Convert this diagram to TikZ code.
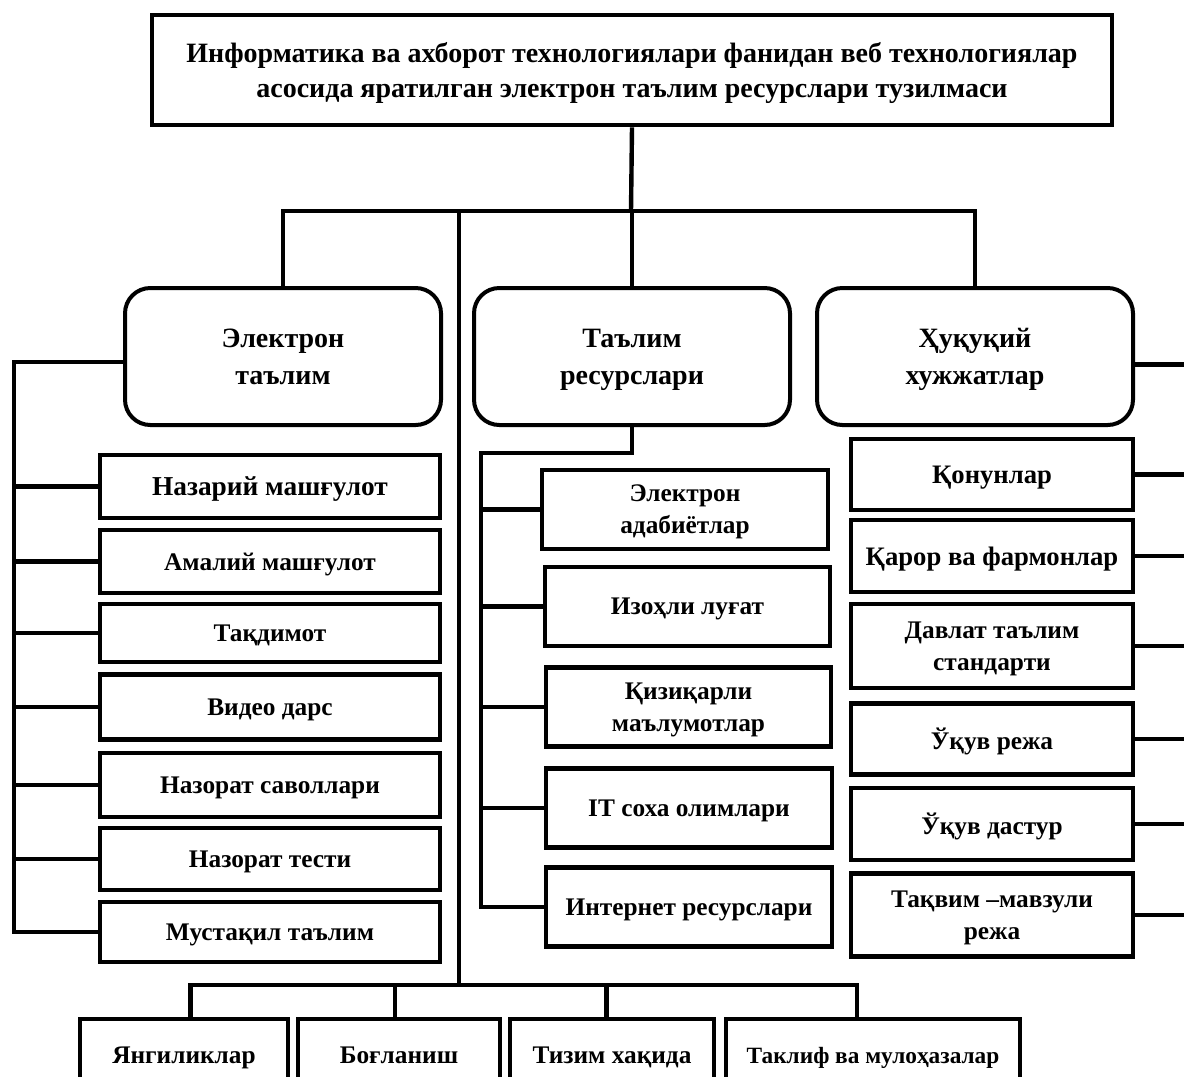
\documentclass[tikz,border=0pt]{standalone}
\usepackage{fontspec}
\setmainfont{Liberation Serif}
\newcommand\pxu{0.75pt}
\begin{document}
\begin{tikzpicture}[x=0.75pt,y=-0.75pt,
  sq/.style={draw, line width=3.3pt, align=center, inner sep=2pt, text depth=0pt, font=\bfseries\fontsize{19}{24}\selectfont},
  big/.style={font=\bfseries\fontsize{20.5}{24}\selectfont},
  rnd/.style={sq, line width=3pt, rounded corners=19pt, font=\bfseries\fontsize{21}{28}\selectfont},
  ttl/.style={sq, line width=3.5pt, font=\bfseries\fontsize{21}{26}\selectfont},
  link/.style={line width=3.3pt, line join=miter}]
\clip (0,0) rectangle (1184,1077);
\fill[white] (0,0) rectangle (1184,1077);

% title
\node[ttl, minimum width=960*\pxu, minimum height=110*\pxu] (title) at (632,70)
  {Информатика ва ахборот технологиялари фанидан веб технологиялар\\асосида яратилган электрон таълим ресурслари тузилмаси};

% main groups
\node[rnd, minimum width=316*\pxu, minimum height=137*\pxu] (et) at (283,356.5) {Электрон\\таълим};
\node[rnd, minimum width=316*\pxu, minimum height=137*\pxu] (tr) at (632,356.5) {Таълим\\ресурслари};
\node[rnd, minimum width=316*\pxu, minimum height=137*\pxu] (hh) at (975,356.5) {Ҳуқуқий\\хужжатлар};

% left column
\node[sq, big, minimum width=340*\pxu, minimum height=63*\pxu] (l1) at (270,486.5) {Назарий машғулот};
\node[sq, minimum width=340*\pxu, minimum height=63*\pxu] (l2) at (270,561.5) {Амалий машғулот};
\node[sq, minimum width=340*\pxu, minimum height=58*\pxu] (l3) at (270,633) {Тақдимот};
\node[sq, minimum width=340*\pxu, minimum height=65*\pxu] (l4) at (270,707) {Видео дарс};
\node[sq, minimum width=340*\pxu, minimum height=64*\pxu] (l5) at (270,785) {Назорат саволлари};
\node[sq, minimum width=340*\pxu, minimum height=62*\pxu] (l6) at (270,859) {Назорат тести};
\node[sq, minimum width=340*\pxu, minimum height=60*\pxu] (l7) at (270,932) {Мустақил таълим};

% middle column
\node[sq, minimum width=286*\pxu, minimum height=79*\pxu] (m1) at (685,509.5) {Электрон\\адабиётлар};
\node[sq, minimum width=285*\pxu, minimum height=79*\pxu] (m2) at (687.5,606.5) {Изоҳли луғат};
\node[sq, minimum width=285*\pxu, minimum height=79*\pxu] (m3) at (688.5,707) {Қизиқарли\\маълумотлар};
\node[sq, minimum width=286*\pxu, minimum height=79*\pxu] (m4) at (689,808) {IT соха олимлари};
\node[sq, minimum width=286*\pxu, minimum height=79*\pxu] (m5) at (689,907) {Интернет ресурслари};

% right column
\node[sq, font=\bfseries\fontsize{20}{24}\selectfont, minimum width=282*\pxu, minimum height=71*\pxu] (r1) at (992,474.5) {Қонунлар};
\node[sq, font=\bfseries\fontsize{20}{24}\selectfont, minimum width=282*\pxu, minimum height=72*\pxu] (r2) at (992,556) {Қарор ва фармонлар};
\node[sq, minimum width=282*\pxu, minimum height=84*\pxu] (r3) at (992,646) {Давлат таълим\\стандарти};
\node[sq, minimum width=282*\pxu, minimum height=71*\pxu] (r4) at (992,739) {Ўқув режа};
\node[sq, minimum width=282*\pxu, minimum height=72*\pxu] (r5) at (992,824) {Ўқув дастур};
\node[sq, minimum width=282*\pxu, minimum height=83*\pxu] (r6) at (992,915) {Тақвим –мавзули\\режа};

% bottom row
\node[sq, minimum width=208*\pxu, minimum height=72*\pxu] (b1) at (184,1055) {Янгиликлар};
\node[sq, minimum width=202*\pxu, minimum height=72*\pxu] (b2) at (399,1055) {Боғланиш};
\node[sq, minimum width=204*\pxu, minimum height=72*\pxu] (b3) at (612,1055) {Тизим хақида};
\node[sq, minimum width=294*\pxu, minimum height=72*\pxu, font=\bfseries\fontsize{17.5}{22}\selectfont] (b4) at (873,1055) {Таклиф ва мулоҳазалар};

% bus coordinates
\coordinate (tbus) at (631,211);
\coordinate (spine) at (459,211);
\coordinate (bbus) at (459,985);
\coordinate (lv) at (14,361);
\coordinate (mv) at (481,453);
\coordinate (redge) at (1190,0);

% top tree
\draw[link] (title.south) -- (tbus);
\draw[link] (et.north) -- (et.north |- tbus) -- (hh.north |- tbus) -- (hh.north);
\draw[link] (tr.north) -- (tr.north |- tbus);
\draw[link] (spine) -- (bbus);

% left column links
\draw[link] ([yshift=-4pt]et.west) -- ([yshift=-4pt]et.west -| lv) -- (l7.west -| lv) -- (l7.west);
\foreach \n in {l1,l2,l3,l4,l5,l6}{\draw[link] (\n.west) -- (\n.west -| lv);}

% middle column links
\draw[link] (tr.south) |- (mv) -- (m5.west -| mv) -- (m5.west);
\foreach \n in {m1,m2,m3,m4}{\draw[link] (\n.west) -- (\n.west -| mv);}

% right column links
\draw[link] ([yshift=-6pt]hh.east) -- ([yshift=-6pt]hh.east -| redge);
\foreach \n in {r1,r2,r3,r4,r5,r6}{\draw[link] (\n.east) -- (\n.east -| redge);}

% bottom links
\draw[link] ([xshift=5pt]b1.north) -- ([xshift=5pt]b1.north |- bbus) -- ([xshift=-12pt]b4.north |- bbus) -- ([xshift=-12pt]b4.north);
\draw[link] ([xshift=-3pt]b2.north) -- ([xshift=-3pt]b2.north |- bbus);
\draw[link] ([xshift=-4pt]b3.north) -- ([xshift=-4pt]b3.north |- bbus);
\end{tikzpicture}
\end{document}
